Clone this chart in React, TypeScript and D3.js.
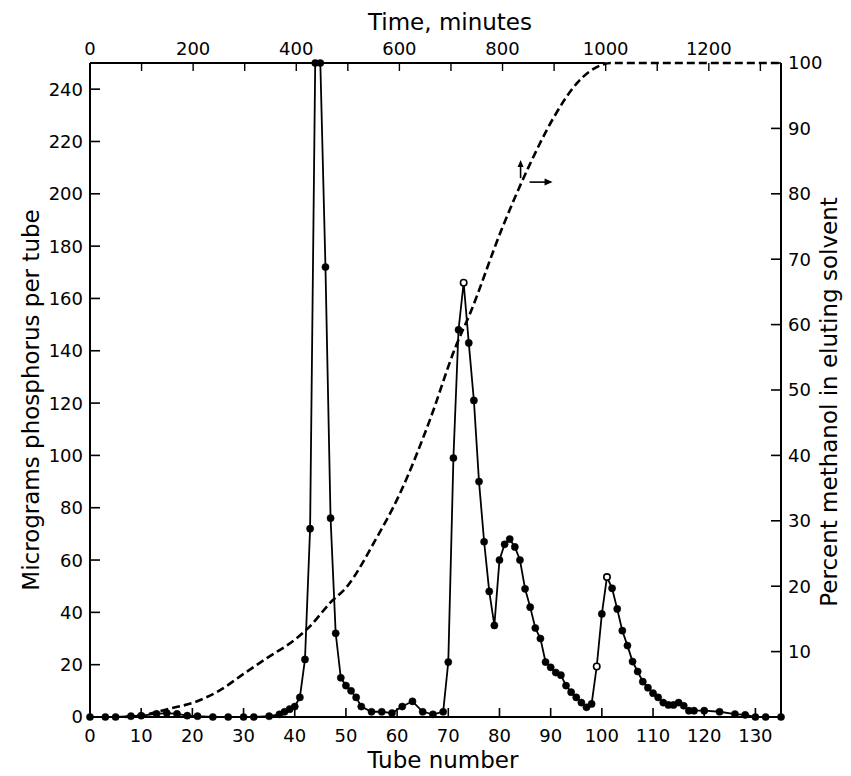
import React from "react";
import * as d3 from "d3";

// Tube number vs micrograms phosphorus per tube
const tubes = [0, 3, 5, 8, 10, 13, 15, 17, 19, 21, 24, 27, 30, 32, 35, 37, 38, 39, 40, 41, 42, 43, 44, 45, 46, 47, 48, 49, 50, 51, 52, 53, 55, 57, 59, 61, 63, 65, 67, 69, 70, 71, 72, 73, 74, 75, 76, 77, 78, 79, 80, 81, 82, 83, 84, 85, 86, 87, 88, 89, 90, 91, 92, 93, 94, 95, 96, 97, 98, 99, 100, 101, 102, 103, 104, 105, 106, 107, 108, 109, 110, 111, 112, 113, 114, 115, 116, 117, 118, 120, 123, 126, 128, 130, 132, 135];
const phosphorus = [0, 0, 0, 0.3, 0.5, 1.2, 1.5, 1.2, 0.5, 0.3, 0, 0, 0, 0, 0.3, 1, 2, 3, 4, 7.5, 22, 72, 250, 250, 172, 76, 32, 15, 12, 10, 7.5, 4, 2, 2, 1.5, 4, 6, 2, 1, 2, 21, 99, 148, 166, 143, 121, 90, 67, 48, 35, 60, 66, 68, 65, 60, 49, 42, 34, 30, 21, 19, 17, 16, 12, 9.5, 7.5, 5.5, 3.7, 5, 19.3, 39.4, 53.5, 49.2, 41.3, 33, 27.3, 21.2, 17.4, 13.5, 11.2, 9.1, 7.5, 5.5, 4.6, 4.6, 5.5, 4.3, 2.4, 2.4, 2.4, 2, 1.1, 0.8, 0, 0, 0];
const openTubes = [73, 99, 101];

// Time (minutes) vs percent methanol in eluting solvent
const timeMinutes = [68, 110, 150, 204, 250, 300, 343, 400, 427, 465, 498, 553, 600, 659, 708, 737, 798, 850, 898, 944, 992, 1010, 1340];
const methanolPct = [0, 0.4, 1.2, 2.3, 4, 6.7, 9, 12, 13.9, 17.4, 19.9, 27, 34, 45.4, 56.4, 61.7, 74.5, 84, 91.5, 96.9, 99.7, 100, 100];

// Axis ticks
const tubeTicks = [0, 10, 20, 30, 40, 50, 60, 70, 80, 90, 100, 110, 120, 130];
const phosTicks = [0, 20, 40, 60, 80, 100, 120, 140, 160, 180, 200, 220, 240];
const timeLabelTicks = [0, 200, 400, 600, 800, 1000, 1200];
const timeMinorTicks = [100, 200, 300, 400, 500, 600, 700, 800, 900, 1000, 1100, 1200, 1300];
const pctTicks = [10, 20, 30, 40, 50, 60, 70, 80, 90, 100];

// Arrow annotation anchor (time, percent)
const arrowTime = 835;
const arrowPct = 82.4;

const W = 851;
const H = 776;
const FONT = "'DejaVu Sans', sans-serif";

export default function App() {
  const x = d3.scaleLinear().domain([0, 135]).range([90, 781]);
  const xt = d3.scaleLinear().domain([0, 1340]).range([90, 781]);
  const y = d3.scaleLinear().domain([0, 250]).range([717, 63]).clamp(true);
  const yr = d3.scaleLinear().domain([0, 100]).range([717, 63]);

  const pts = tubes.map((t, i) => ({ t, v: phosphorus[i] }));
  const line = d3
    .line<{ t: number; v: number }>()
    .x((d) => x(d.t))
    .y((d) => y(d.v));

  const mPts = timeMinutes.map((t, i) => ({ t, p: methanolPct[i] }));
  const mLine = d3
    .line<{ t: number; p: number }>()
    .x((d) => xt(d.t))
    .y((d) => yr(d.p))
    .curve(d3.curveMonotoneX);

  const x0 = x(0);
  const x1 = x(135);
  const yB = y(0);
  const yT = y(250);
  const ax = xt(arrowTime);
  const ay = yr(arrowPct);

  return (
    <svg
      width={W}
      height={H}
      style={{ position: "absolute", left: 0, top: 0, background: "#fff" }}
      fontFamily={FONT}
    >
      <rect x={0} y={0} width={W} height={H} fill="#fff" />
      {/* frame */}
      <line x1={x0} y1={yT} x2={x0} y2={yB} stroke="#000" strokeWidth={2} />
      <line x1={x1} y1={yT} x2={x1} y2={yB} stroke="#000" strokeWidth={2} />
      <line x1={x0} y1={yB} x2={x1} y2={yB} stroke="#000" strokeWidth={2} />
      <line x1={x0} y1={yT} x2={xt(1000)} y2={yT} stroke="#000" strokeWidth={2} />

      {/* bottom ticks */}
      {tubeTicks.map((t) => (
        <g key={"bt" + t}>
          {t > 0 && <line x1={x(t)} x2={x(t)} y1={yB} y2={yB - 9} stroke="#000" strokeWidth={1.6} />}
          <text x={x(t)} y={742} fontSize={18} textAnchor="middle">
            {t}
          </text>
        </g>
      ))}
      {/* left ticks */}
      {phosTicks.map((v) => (
        <g key={"lt" + v}>
          {v > 0 && <line x1={x0} x2={x0 + 10} y1={y(v)} y2={y(v)} stroke="#000" strokeWidth={1.6} />}
          <text x={83} y={y(v)} dy="0.36em" fontSize={18} textAnchor="end">
            {v}
          </text>
        </g>
      ))}
      {/* top ticks */}
      {timeMinorTicks.map((t) => (
        <line key={"tm" + t} x1={xt(t)} x2={xt(t)} y1={yT} y2={yT + 8} stroke="#000" strokeWidth={1.4} />
      ))}
      {timeLabelTicks.map((t) => (
        <text key={"tl" + t} x={xt(t)} y={55} fontSize={18} textAnchor="middle">
          {t}
        </text>
      ))}
      {/* right ticks */}
      {pctTicks.map((p) => (
        <g key={"rt" + p}>
          <line x1={x1} x2={x1 - 10} y1={yr(p)} y2={yr(p)} stroke="#000" strokeWidth={1.6} />
          <text x={788} y={yr(p)} dy="0.36em" fontSize={18} textAnchor="start">
            {p}
          </text>
        </g>
      ))}

      {/* titles */}
      <text x={450} y={30} fontSize={23} textAnchor="middle">
        Time, minutes
      </text>
      <text x={443} y={768} fontSize={23} textAnchor="middle">
        Tube number
      </text>
      <text
        transform={`translate(39,${(yT + yB) / 2 + 10}) rotate(-90)`}
        fontSize={23}
        textAnchor="middle"
      >
        Micrograms phosphorus per tube
      </text>
      <text
        transform={`translate(837,${(yT + yB) / 2 + 12}) rotate(-90)`}
        fontSize={23}
        textAnchor="middle"
      >
        Percent methanol in eluting solvent
      </text>

      {/* methanol gradient (dashed) */}
      <path d={mLine(mPts) || ""} fill="none" stroke="#000" strokeWidth={2.6} strokeDasharray="8,4" />

      {/* arrows */}
      <line x1={ax} y1={ay} x2={ax} y2={ay - 14} stroke="#000" strokeWidth={1.6} />
      <path d={`M${ax - 3},${ay - 11} L${ax},${ay - 18} L${ax + 3},${ay - 11} Z`} fill="#000" />
      <line x1={ax + 9} y1={ay + 4} x2={ax + 26} y2={ay + 4} stroke="#000" strokeWidth={1.6} />
      <path d={`M${ax + 24},${ay + 0.5} L${ax + 32},${ay + 4} L${ax + 24},${ay + 7.5} Z`} fill="#000" />

      {/* phosphorus line */}
      <path d={line(pts) || ""} fill="none" stroke="#000" strokeWidth={1.8} />
      {pts.map((d) => {
        const open = openTubes.includes(d.t);
        return (
          <circle
            key={"p" + d.t}
            cx={x(d.t)}
            cy={y(d.v)}
            r={open ? 3.2 : 3.6}
            fill={open ? "#fff" : "#000"}
            stroke="#000"
            strokeWidth={open ? 1.6 : 0.5}
          />
        );
      })}
    </svg>
  );
}
